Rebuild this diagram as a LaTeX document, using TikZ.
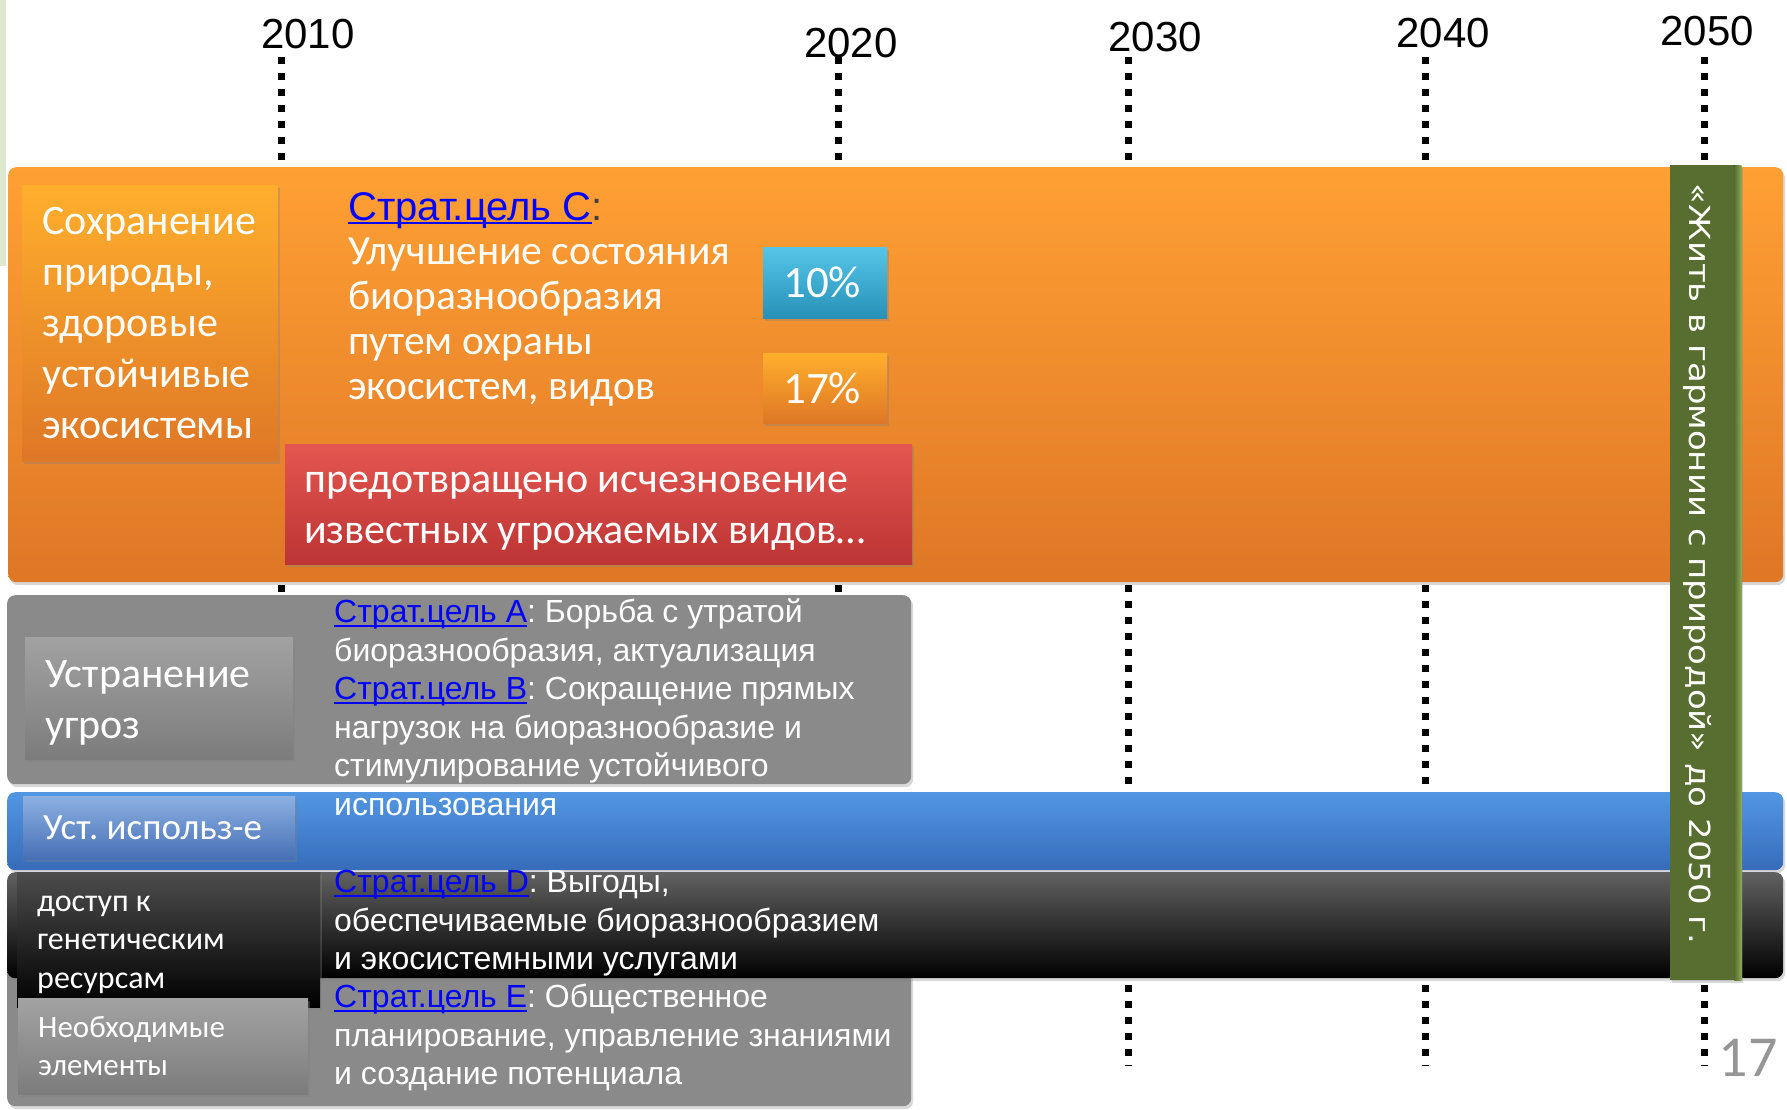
\documentclass[tikz,border=0pt]{standalone}
\usepackage{fontspec}
\setmainfont{Carlito}
\newfontfamily\arialfont{Liberation Sans}
\newfontfamily\lifefont[FakeStretch=1.17]{DejaVu Sans}
\usetikzlibrary{shadows}
\frenchspacing

\definecolor{natorangetop}{RGB}{255,160,52}
\definecolor{natorangebot}{RGB}{222,119,38}
\definecolor{threatgrey}{RGB}{138,138,138}
\definecolor{tiletop}{RGB}{162,162,162}
\definecolor{tilebot}{RGB}{124,124,124}
\definecolor{usebluetop}{RGB}{82,150,226}
\definecolor{usebluebot}{RGB}{54,108,186}
\definecolor{usetiletop}{RGB}{140,176,226}
\definecolor{usetilebot}{RGB}{72,112,182}
\definecolor{lifegreen}{RGB}{88,110,48}
\definecolor{lifebevel}{RGB}{140,170,88}
\definecolor{tentop}{RGB}{84,198,232}
\definecolor{tenbot}{RGB}{40,144,184}
\definecolor{redtop}{RGB}{228,86,80}
\definecolor{redbot}{RGB}{188,52,52}
\definecolor{linkblue}{RGB}{0,0,255}
\definecolor{pagegrey}{RGB}{150,150,150}
\definecolor{stripgreen}{RGB}{222,232,205}

\newsavebox{\linkbox}
\newcommand{\goallink}[1]{{\color{linkblue}\sbox{\linkbox}{Страт.цель #1}\rlap{\rule[-4pt]{\wd\linkbox}{2pt}}\usebox{\linkbox}}}

\tikzset{
 yearline/.style={line width=7pt, dash pattern=on 7pt off 9pt},
 yearlabel/.style={font=\arialfont\fontsize{42}{50}\selectfont},
 bar/.style={anchor=north west, inner sep=0pt, rounded corners=8pt, drop shadow={opacity=0.3, shadow xshift=2pt, shadow yshift=-3pt}},
 tile/.style={anchor=north west, inner ysep=0pt, inner xsep=20pt, text=white, align=flush left, drop shadow={opacity=0.35, shadow xshift=2pt, shadow yshift=-3pt}},
 goaltext/.style={anchor=north west, inner sep=0pt, text=white, align=left, font=\arialfont\fontsize{32}{38.5}\selectfont}
}

\begin{document}
\begin{tikzpicture}[x=1pt, y=-1pt]
\useasboundingbox (0,0) rectangle (1787,1109);
\fill[white] (0,0) rectangle (1787,1109);
\fill[stripgreen] (0,0) rectangle (6,266);

\coordinate (top2010) at (281,57);
\coordinate (bot2010) at (281,1066);
\coordinate (top2020) at (838,57);
\coordinate (bot2020) at (838,1066);
\coordinate (top2030) at (1128,57);
\coordinate (bot2030) at (1128,1066);
\coordinate (top2040) at (1425,57);
\coordinate (bot2040) at (1425,1066);
\coordinate (top2050) at (1704,57);
\coordinate (bot2050) at (1704,1066);
\draw[yearline] (top2010) -- (bot2010);
\draw[yearline] (top2020) -- (bot2020);
\draw[yearline] (top2030) -- (bot2030);
\draw[yearline] (top2040) -- (bot2040);
\draw[yearline] (top2050) -- (bot2050);
\node[yearlabel] (y2010) at (308,34) {2010};
\node[yearlabel] (y2020) at (851,43) {2020};
\node[yearlabel] (y2030) at (1155,37) {2030};
\node[yearlabel] (y2040) at (1443,33) {2040};
\node[yearlabel] (y2050) at (1707,31) {2050};

\node[bar, top color=natorangetop, bottom color=natorangebot, minimum width=1775, minimum height=415] (conserve) at (8,167) {};
\node[tile, top color=natorangetop!85!yellow, bottom color=natorangebot, minimum height=276, text width=216, font=\fontsize{42}{51}\selectfont] (conservetile) at (22,185) {Сохранение\\природы,\\здоровые\\устойчивые\\экосистемы};
\node[anchor=north west, inner sep=0pt, font=\arialfont\fontsize{40}{45}\selectfont] (goalC) at (348,192) {\goallink{C}\textcolor{black!75}{:}};
\node[anchor=north west, inner sep=0pt, text=white, align=left, font=\fontsize{41.5}{45}\selectfont] (goalCtext) at (348,238) {Улучшение состояния\\биоразнообразия\\путем охраны\\экосистем, видов};
\node[tile, top color=tentop, bottom color=tenbot, inner xsep=0pt, minimum width=124, minimum height=71, align=center, font=\fontsize{45}{50}\selectfont] (ten) at (763,247) {10\%\hspace*{6pt}};
\node[tile, top color=natorangetop!85!yellow, bottom color=natorangebot, inner xsep=0pt, minimum width=124, minimum height=70, align=center, font=\fontsize{45}{50}\selectfont] (seventeen) at (763,353) {17\%\hspace*{6pt}};
\node[tile, top color=redtop, bottom color=redbot, minimum height=120, text width=589, inner xsep=19pt, text depth=0pt, font=\fontsize{42}{51}\selectfont] (extinct) at (285,444) {\raisebox{-8pt}{\parbox[b]{589pt}{предотвращено исчезновение\\известных угрожаемых видов…}}};

\node[bar, fill=threatgrey, minimum width=904, minimum height=189] (threats) at (7,595) {};
\node[tile, top color=tiletop, bottom color=tilebot, minimum height=122, text width=228, font=\fontsize{42}{51}\selectfont] (threatstile) at (25,637) {\raisebox{-5pt}[\height][\depth]{\parbox[b]{228pt}{Устранение\\угроз}}};
\node[bar, top color=usebluetop, bottom color=usebluebot, minimum width=1776, minimum height=78] (usebar) at (7,792) {};
\node[tile, top color=usetiletop, bottom color=usetilebot, minimum height=63, text width=232, font=\fontsize{37}{44}\selectfont] (usetile) at (23,796) {Уст. использ-е};
\node[goaltext] (goalAB) at (334,599) {\goallink{A}: Борьба с утратой\\биоразнообразия, актуализация\\\goallink{B}: Сокращение прямых\\нагрузок на биоразнообразие и\\стимулирование устойчивого\\использования};

\node[bar, fill=threatgrey, minimum width=904, minimum height=146] (needs) at (7,960) {};
\node[bar, top color=black!62, middle color=black, bottom color=black, minimum width=1776, minimum height=106] (benefits) at (7,872) {};
\node[tile, top color=black!70, middle color=black, bottom color=black, minimum height=135, text width=263, font=\fontsize{32}{38.5}\selectfont] (accesstile) at (17,872) {\raisebox{-5pt}[\height][\depth]{\parbox[b]{263pt}{доступ к\\генетическим\\ресурсам}}};
\node[tile, top color=tiletop, bottom color=tilebot, minimum height=96, text width=250, font=\fontsize{31}{38}\selectfont] (needstile) at (18,998) {Необходимые\\элементы};
\node[goaltext] (goalD) at (334,870) {\goallink{D}: Выгоды,\\обеспечиваемые биоразнообразием\\и экосистемными услугами};
\node[goaltext] (goalE) at (334,984) {\goallink{E}: Общественное\\планирование, управление знаниями\\и создание потенциала};

\node[anchor=north west, inner sep=0pt, fill=lifegreen, minimum width=71, minimum height=815, drop shadow={opacity=0.3, shadow xshift=2pt, shadow yshift=-3pt}] (life) at (1670,165) {};
\fill[left color=lifegreen, right color=lifebevel] (life.north east) ++(-7,0) rectangle (life.south east);
\node[rotate=-90, text=white, inner sep=0pt, font=\lifefont\fontsize{29}{34}\selectfont] (lifetext) at (1697,564) {«Жить в гармонии с природой» до 2050 г.};

\node[text=pagegrey, inner sep=0pt, font=\fontsize{58}{64}\selectfont] (pagenum) at (1748,1058) {17};
\end{tikzpicture}
\end{document}
